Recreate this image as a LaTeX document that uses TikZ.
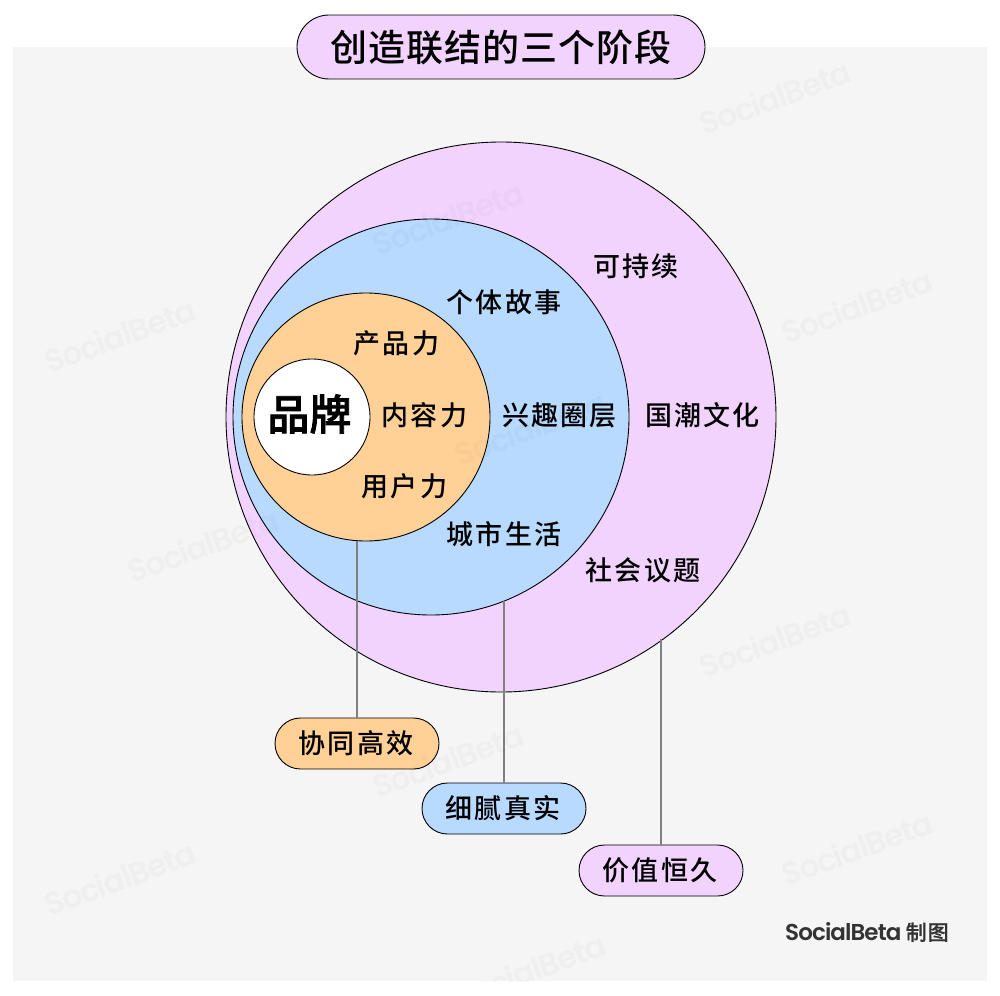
\documentclass[tikz,border=0pt]{standalone}
\usepackage{fontspec}
\usetikzlibrary{shapes.misc}
\setmainfont{Noto Sans CJK SC}
\newfontfamily\cjklab[LetterSpace=8]{Noto Sans CJK SC Medium}
\newfontfamily\cjktitle[LetterSpace=2.7]{Noto Sans CJK SC Medium}
\newfontfamily\cjkfoot[LetterSpace=4,FakeBold=0.6]{Noto Sans CJK SC Medium}
\newfontfamily\cjkbrand[FakeBold=2]{Noto Sans CJK SC Medium}
\newfontfamily\wmfont[LetterSpace=-4]{Poppins SemiBold}
\newfontfamily\footfont[LetterSpace=-4]{Poppins SemiBold}
\definecolor{panelgrey}{HTML}{F5F5F5}
\definecolor{lilac}{HTML}{F2D3FE}
\definecolor{skyblue}{HTML}{B8DAFF}
\definecolor{apricot}{HTML}{FFD197}
\definecolor{footgrey}{HTML}{333333}
\tikzset{
  ring/.style={circle,draw=black,line width=0.9pt,inner sep=0pt,outer sep=0pt},
  pill/.style={rounded rectangle,draw=black,line width=0.9pt,inner sep=0pt,outer sep=0pt,
    minimum width=164pt,minimum height=51pt,font=\cjklab\fontsize{27}{30}\selectfont},
  lab/.style={inner sep=0pt,font=\cjklab\fontsize{27}{30}\selectfont},
  link/.style={draw=black!50,line width=2pt},
  wm/.style={rotate=20,inner sep=0pt,text=black,text opacity=0.024,font=\wmfont\fontsize{31.5}{36}\selectfont}
}
\begin{document}
\begin{tikzpicture}[x=1pt,y=-1pt]
\useasboundingbox (0,0) rectangle (1000,995);
\fill[panelgrey] (13,47) rectangle (987,981);
\node[ring,fill=lilac,minimum size=550pt] (outer) at (501,417) {};
\node[ring,fill=skyblue,minimum size=396pt] (mid) at (431,417) {};
\node[ring,fill=apricot,minimum size=248pt] (inner) at (366,417) {};
\node[ring,fill=white,minimum size=116pt] (core) at (312,417) {};
\node[pill,fill=lilac,minimum width=408pt,minimum height=64pt,font=\cjktitle\fontsize{37}{40}\selectfont] (title) at (501,47) {创造联结的三个阶段};
\node[pill,fill=apricot] (pa) at (357,743.5) {\hspace*{-2pt}协同高效};
\node[pill,fill=skyblue] (pb) at (504,808.5) {\hspace*{-2pt}细腻真实};
\node[pill,fill=lilac] (pc) at (661,870.5) {\hspace*{-2pt}价值恒久};
\draw[link] (pa.north |- inner.-94.2) -- (pa.north);
\draw[link] (pb.north |- mid.-68.4) -- (pb.north);
\draw[link] (pc.north |- outer.-54.4) -- (pc.north);
\begin{scope}
\clip (13,47) rectangle (987,981);
\node[wm] (w1) at (775,97) {SocialBeta};
\node[wm] (w2) at (448,218) {SocialBeta};
\node[wm] (w3) at (120,335) {SocialBeta};
\node[wm] (w4) at (857,306) {SocialBeta};
\node[wm] (w5) at (530,428) {SocialBeta};
\node[wm] (w6) at (203,545) {SocialBeta};
\node[wm] (w7) at (775,640) {SocialBeta};
\node[wm] (w8) at (448,760) {SocialBeta};
\node[wm] (w9) at (120,878) {SocialBeta};
\node[wm] (w10) at (857,848) {SocialBeta};
\node[wm] (w11) at (530,970) {SocialBeta};
\end{scope}
\node[inner sep=0pt,font=\cjkbrand\fontsize{42}{46}\selectfont] (brand) at (309.5,414) {品牌};
\node[lab] (t1) at (636,266) {可持续};
\node[lab] (t2) at (504,302) {个体故事};
\node[lab] (t3) at (396.5,343) {产品力};
\node[lab] (t4) at (424.5,415) {内容力};
\node[lab] (t5) at (559.5,415) {兴趣圈层};
\node[lab] (t6) at (702.5,415) {国潮文化};
\node[lab] (t7) at (404.5,486) {用户力};
\node[lab] (t8) at (504,534) {城市生活};
\node[lab] (t9) at (643,570) {社会议题};
\node[inner sep=0pt,text=footgrey,anchor=west] (foot) at (785,932) {\footfont\fontsize{23}{26}\selectfont SocialBeta\hspace{4.5pt}\cjkfoot\fontsize{21}{26}\selectfont 制图};
\end{tikzpicture}
\end{document}
